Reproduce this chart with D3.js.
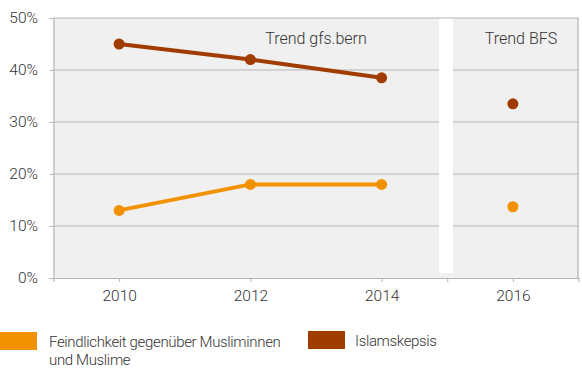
<!DOCTYPE html>
<html lang="de">
<head>
<meta charset="UTF-8">
<script src="https://cdn.jsdelivr.net/npm/d3@7"></script>
<style>
  body { margin: 0; background: #fff; }
  text { font-family: Roboto, "Noto Sans", sans-serif; font-weight: 300; fill: #333; }
</style>
</head>
<body>
<script>
const years = [2010, 2012, 2014, 2016];
const feindlichkeit = [13, 18, 18, 13.7];
const islamskepsis = [45, 42, 38.5, 33.5];
const yTicks = [0, 10, 20, 30, 40, 50];
const xTicks = [2010, 2012, 2014, 2015, 2016];
const xLabels = [2010, 2012, 2014, 2016];
const seriesNames = ["Feindlichkeit gegenüber Musliminnen", "und Muslime"];

const width = 582, height = 376;
const orange = "#f39200", brown = "#a03c00", grid = "#b5b5b5";

const svg = d3.select("body").append("svg")
    .attr("width", width)
    .attr("height", height);

const x = d3.scaleLinear().domain([2009, 2017]).range([53.5, 578.5]);
const y = d3.scaleLinear().domain([0, 50]).range([278, 18]);

// background panel
svg.append("rect")
    .attr("x", x(2009)).attr("y", y(50))
    .attr("width", x(2017) - x(2009)).attr("height", y(0) - y(50))
    .attr("fill", "#f0f0f0");

// gap between the two trends
svg.append("rect")
    .attr("x", 439).attr("y", y(50))
    .attr("width", 14).attr("height", 273 - y(50))
    .attr("fill", "#fff");

// grid lines (10%..40% stop at the gap, top line runs across)
svg.append("g")
    .selectAll("line")
    .data(yTicks.filter(d => d > 0 && d < 50))
    .join("line")
    .attr("x1", x(2009)).attr("x2", x(2017))
    .attr("y1", d => y(d)).attr("y2", d => y(d))
    .attr("stroke", grid).attr("stroke-width", 1.2);
svg.append("rect")
    .attr("x", 439).attr("y", y(45))
    .attr("width", 14).attr("height", 273 - y(45))
    .attr("fill", "#fff");
svg.append("line")
    .attr("x1", x(2009)).attr("x2", x(2017))
    .attr("y1", y(50)).attr("y2", y(50))
    .attr("stroke", grid).attr("stroke-width", 1.2);

// right border
svg.append("line")
    .attr("x1", x(2017) - 0.5).attr("x2", x(2017) - 0.5)
    .attr("y1", y(50)).attr("y2", y(0))
    .attr("stroke", grid).attr("stroke-width", 1.2);

// y axis
const yAxis = svg.append("g")
    .attr("transform", `translate(${x(2009)},0)`)
    .call(d3.axisLeft(y).tickValues(yTicks).tickFormat(d => d + "%").tickSize(4).tickPadding(11.5));
yAxis.select(".domain").attr("stroke", grid).attr("stroke-width", 1.2);
yAxis.selectAll(".tick line").attr("stroke", grid);
yAxis.selectAll("text").attr("font-size", 15.5).attr("fill", "#333")
    .style("font-family", "Roboto, sans-serif").style("font-weight", 300);

// x axis
const xAxis = svg.append("g")
    .attr("transform", `translate(0,${y(0)})`)
    .call(d3.axisBottom(x).tickValues(xTicks)
        .tickFormat(d => xLabels.includes(d) ? d : "").tickSize(4).tickPadding(8));
xAxis.select(".domain").attr("stroke", grid).attr("stroke-width", 1.2);
xAxis.selectAll(".tick line").attr("stroke", grid);
xAxis.selectAll("text").attr("font-size", 15.5).attr("fill", "#333")
    .style("font-family", "Roboto, sans-serif").style("font-weight", 300);

// panel titles
svg.append("text").attr("x", x(2013)).attr("y", 44)
    .attr("text-anchor", "middle").attr("font-size", 16).text("Trend gfs.bern");
svg.append("text").attr("x", 521).attr("y", 44)
    .attr("text-anchor", "middle").attr("font-size", 16).text("Trend BFS");

// series
const series = [
  { values: feindlichkeit, color: orange },
  { values: islamskepsis, color: brown }
];
const line = d3.line().x(d => x(d[0])).y(d => y(d[1]));

series.forEach(s => {
  const pts = years.map((yr, i) => [yr, s.values[i]]);
  svg.append("path")
      .datum(pts.slice(0, 3))
      .attr("d", line)
      .attr("fill", "none")
      .attr("stroke", s.color)
      .attr("stroke-width", 4);
  svg.append("g")
      .selectAll("circle")
      .data(pts)
      .join("circle")
      .attr("cx", d => x(d[0]))
      .attr("cy", d => y(d[1]))
      .attr("r", 5.5)
      .attr("fill", s.color);
});

// legend
const legend = svg.append("g").attr("font-size", 15).attr("letter-spacing", -0.35);
legend.append("rect").attr("x", 0).attr("y", 332).attr("width", 37).attr("height", 18).attr("fill", orange);
legend.append("text").attr("x", 49).attr("y", 347).text(seriesNames[0]);
legend.append("text").attr("x", 49).attr("y", 365).text(seriesNames[1]);
legend.append("rect").attr("x", 308).attr("y", 331).attr("width", 37).attr("height", 18).attr("fill", brown);
legend.append("text").attr("x", 355).attr("y", 346).text("Islamskepsis");
</script>
</body>
</html>
